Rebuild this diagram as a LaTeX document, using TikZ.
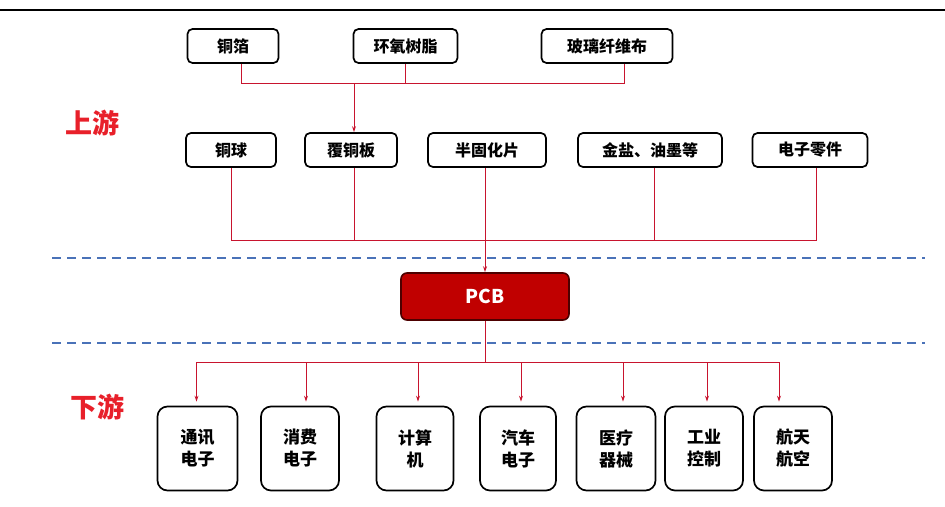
\documentclass[tikz,border=0pt]{standalone}
\usepackage{fontspec}
\newfontfamily\cjk{Noto Sans CJK SC}
\usetikzlibrary{arrows.meta,calc}
\definecolor{lred}{HTML}{C8142E}
\definecolor{tred}{HTML}{E8202A}
\definecolor{pcbred}{HTML}{C00000}
\definecolor{dblue}{HTML}{4A72B8}
\tikzset{
  box/.style={draw=black, line width=1.7pt, rounded corners=5pt, fill=white, align=center, inner sep=0pt, font=\cjk\bfseries\fontsize{16}{18}\selectfont},
  tbox/.style={box, minimum height=34pt},
  bbox/.style={box, rounded corners=10pt, minimum height=84pt, font=\cjk\bfseries\fontsize{17}{22}\selectfont},
  link/.style={draw=lred, line width=1pt},
  arr/.style={link, -{Stealth[length=6pt,width=4pt]}},
  sep/.style={draw=dblue, line width=1.5pt, dash pattern=on 9pt off 6pt},
  region/.style={text=tred, font=\cjk\bfseries\fontsize{27}{29}\selectfont}
}
\begin{document}
\begin{tikzpicture}[x=1pt,y=-1pt]
\useasboundingbox (0,0) rectangle (945,506);
\draw[line width=2.5pt] (0,10) -- (945,10);
% top row
\node[tbox, minimum width=91pt] (cf) at (233,46) {铜箔};
\node[tbox, minimum width=104pt] (hy) at (405.5,46) {环氧树脂};
\node[tbox, minimum width=131pt] (bl) at (607,46) {玻璃纤维布};
% second row
\node[tbox, minimum width=90pt] (tq) at (231,150) {铜球};
\node[tbox, minimum width=92pt] (fb) at (351,150) {覆铜板};
\node[tbox, minimum width=118pt] (bg) at (487,150) {半固化片};
\node[tbox, minimum width=144pt] (jy) at (650,150) {金盐、油墨等};
\node[tbox, minimum width=115pt] (dz) at (810,150) {电子零件};
% labels
\node[region] (up) at (92,123) {上游};
\node[region] (down) at (97,407) {下游};
% separators
\coordinate (s1a) at (52,258); \coordinate (s1b) at (925,258);
\coordinate (s2a) at (52,343); \coordinate (s2b) at (925,343);
\draw[sep] (s1a) -- (s1b);
\draw[sep] (s2a) -- (s2b);
% PCB
\node[draw=black!60!pcbred, line width=1.6pt, fill=pcbred, rounded corners=6pt, minimum width=168pt, minimum height=47pt, text=white, font=\cjk\bfseries\fontsize{19}{21}\selectfont] (pcb) at (485,296.5) {PCB};
% top connectors
\coordinate (tbus) at (354,83);
\draw[link] ([xshift=8pt]cf.south) |- (tbus);
\draw[link] (hy.south) |- (tbus);
\draw[link] ([xshift=17pt]bl.south) |- (tbus);
\draw[arr] (tbus) -- (tbus |- fb.north);
% middle connectors
\coordinate (mbus) at (485,240);
\draw[link] (tq.south) |- (mbus);
\draw[link] ([xshift=3pt]fb.south) |- (mbus);
\draw[link] ([xshift=4pt]jy.south) |- (mbus);
\draw[link] ([xshift=6pt]dz.south) |- (mbus);
\draw[arr] (bg.south -| pcb.north) -- (pcb.north);
% bottom boxes
\node[bbox, minimum width=80pt] (b1) at (197.5,448.5) {通讯\\电子};
\node[bbox, minimum width=78pt] (b2) at (300,448.5) {消费\\电子};
\node[bbox, minimum width=77pt] (b3) at (415,448.5) {计算\\机};
\node[bbox, minimum width=76pt] (b4) at (518,448.5) {汽车\\电子};
\node[bbox, minimum width=79pt] (b5) at (616,448.5) {医疗\\器械};
\node[bbox, minimum width=78pt] (b6) at (704,448.5) {工业\\控制};
\node[bbox, minimum width=78pt] (b7) at (793,448.5) {航天\\航空};
\coordinate (bbus) at (485,362);
\draw[link] (pcb.south) -- (bbus);
\foreach \n/\dx in {b1/-1, b2/6, b3/3, b4/3, b5/7, b6/3, b7/-14}{
  \draw[arr, shorten >=4pt] (bbus) -| ([xshift=\dx pt]\n.north);
}
\end{tikzpicture}
\end{document}
